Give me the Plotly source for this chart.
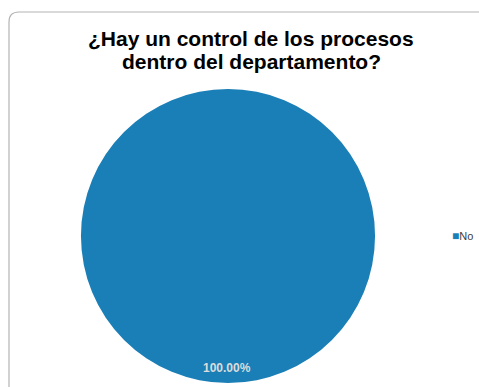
import plotly.graph_objects as go

# Survey answers and counts
labels = ["No"]
values = [1]
slice_colors = ["#1b7fb7"]

title_lines = ["¿Hay un control de los procesos", "dentro del departamento?"]

W, H = 479, 387
FONT = "Liberation Sans, Arial"

total = sum(values)
pct_text = f"{values[0] / total * 100:.2f}%"

fig = go.Figure()
fig.add_trace(go.Pie(
    labels=labels,
    values=values,
    marker=dict(colors=slice_colors, line=dict(width=0)),
    textinfo="none",
    sort=False,
    direction="clockwise",
    hoverinfo="label+percent",
    domain=dict(x=[81 / W, 375 / W], y=[1 - 384 / H, 1 - 88 / H]),
    showlegend=False,
))

# Title, one annotation per line for tight line spacing
for i, line in enumerate(title_lines):
    fig.add_annotation(
        text=f"<b>{line}</b>", x=251 / W, y=1 - (39 + 22 * i) / H,
        xref="paper", yref="paper", xanchor="center", yanchor="middle",
        showarrow=False,
        font=dict(family=FONT, size=21, color="#000000"),
    )

# Percentage label near the bottom of the pie
fig.add_annotation(
    text=f"<b>{pct_text}</b>", x=227 / W, y=1 - 368 / H,
    xref="paper", yref="paper", xanchor="center", yanchor="middle",
    showarrow=False,
    font=dict(family=FONT, size=12, color="#dcdcdc"),
)

# Legend entry: small coloured square followed by the category name
legend_text = "<br>".join(
    f"<span style='color:{c}; font-size:12px'>■</span>{lab}"
    for lab, c in zip(labels, slice_colors)
)
fig.add_annotation(
    text=legend_text, x=450 / W, y=1 - 236 / H,
    xref="paper", yref="paper", xanchor="left", yanchor="middle",
    showarrow=False,
    font=dict(family=FONT, size=11, color="#404040"),
)

# Chart frame with a rounded top-left corner, running off the right and bottom edges
x0, y0, r = 9 / W, 1 - 12 / H, 10
rx, ry = r / W, r / H
frame = (f"M 1.01,{y0} L {x0 + rx},{y0} Q {x0},{y0} {x0},{y0 - ry} "
         f"L {x0},-0.01")
fig.add_shape(type="path", path=frame, xref="paper", yref="paper",
              line=dict(color="#b4b4b4", width=1.2))

fig.update_layout(
    width=W, height=H,
    margin=dict(l=0, r=0, t=0, b=0),
    paper_bgcolor="white",
    plot_bgcolor="white",
    showlegend=False,
)

fig.write_html("out.html")
